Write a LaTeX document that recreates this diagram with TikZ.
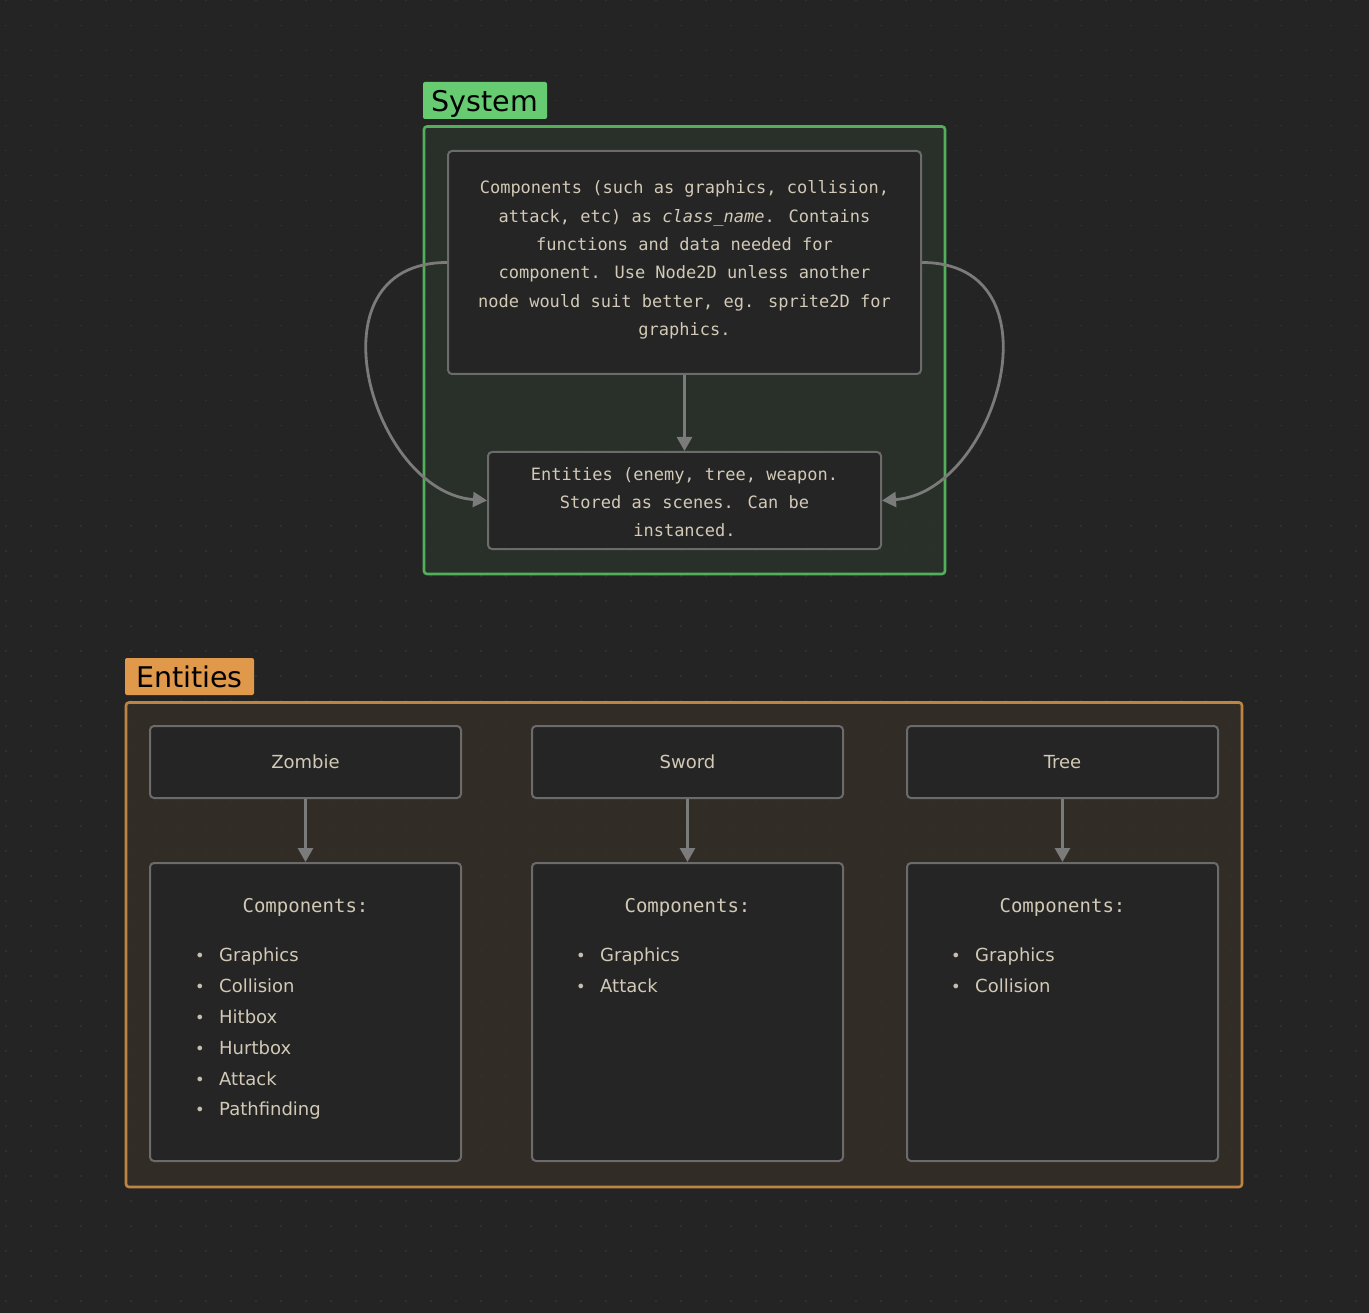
\documentclass[tikz,border=0pt]{standalone}
\usepackage{fontspec}
\setmainfont{DejaVu Sans}
\newfontfamily\monofont{DejaVu Sans Mono}
\usetikzlibrary{arrows.meta}

\definecolor{bgc}{HTML}{242424}
\definecolor{dotc}{HTML}{303030}
\definecolor{sysfill}{HTML}{292F29}
\definecolor{sysline}{HTML}{52B05A}
\definecolor{syslabel}{HTML}{67CC71}
\definecolor{entfill}{HTML}{322C26}
\definecolor{entline}{HTML}{BD8541}
\definecolor{entlabel}{HTML}{E0984A}
\definecolor{boxfill}{HTML}{252525}
\definecolor{boxline}{HTML}{6B6B6B}
\definecolor{txt}{HTML}{D2C9B6}
\definecolor{arrc}{HTML}{7B7B7B}

\newcommand{\bul}{\makebox[24pt][l]{\textcolor{txt!85!gray}{\scalebox{0.9}{•}}}}

\tikzset{
  group/.style={line width=2.6pt, rounded corners=3pt},
  grouplabel/.style={rounded corners=2pt, text=black, inner sep=0pt, text depth=0pt,
    font=\fontsize{28.5}{30}\selectfont},
  card/.style={draw=boxline, fill=boxfill, line width=2pt, rounded corners=4pt,
    inner sep=0pt, text=txt},
  monotext/.style={text=txt, align=center, font=\monofont\fontsize{17}{28.3}\selectfont},
  titletext/.style={text=txt, font=\fontsize{18}{22}\selectfont},
  listtext/.style={text=txt, align=left, inner sep=0pt, font=\fontsize{18}{30.8}\selectfont},
  arr/.style={draw=arrc, line width=2.8pt, -{Triangle[length=14pt,width=15pt]}},
}

\begin{document}
\begin{tikzpicture}[x=1pt, y=-1pt]
  \useasboundingbox (0,0) rectangle (1369,1313);
  \fill[bgc] (0,0) rectangle (1369,1313);

  % group backgrounds
  \fill[group, sysfill] (424,126.5) rectangle (945,574);
  \fill[group, entfill] (126,702.5) rectangle (1242,1187);

  % dot grid
  \foreach \x in {6,31,...,1369}
    \foreach \y in {0.6,25.6,...,1313}
      \fill[dotc] (\x-0.9,\y-0.9) rectangle ++(1.8,1.8);

  % group frames
  \draw[group, draw=sysline] (424,126.5) rectangle (945,574);
  \draw[group, draw=entline] (126,702.5) rectangle (1242,1187);

  % group labels
  \node[grouplabel, fill=syslabel, minimum width=124pt, minimum height=37pt]
    (syslbl) at (485,100.5) {System};
  \node[grouplabel, fill=entlabel, minimum width=129pt, minimum height=37pt]
    (entlbl) at (189.5,676.5) {Entities};

  % system cards
  \node[card, minimum width=473pt, minimum height=223pt] (comp) at (684.5,262.5) {};
  \node[monotext] (comptxt) at (684.5,260) {Components (such as graphics, collision,\\
    attack, etc) as \textit{class\_name}. Contains\\
    functions and data needed for\\
    component. Use Node2D unless another\\
    node would suit better, eg. sprite2D for\\
    graphics.};
  \node[card, minimum width=393pt, minimum height=97pt] (ent) at (684.5,500.5) {};
  \node[monotext] (enttxt) at (684.5,502) {Entities (enemy, tree, weapon.\\
    Stored as scenes. Can be\\
    instanced.};

  \draw[arr] (comp.south) -- (ent.north);
  \draw[arr] (comp.west) .. controls +(-142,0) and +(-115,-8) .. (ent.west);
  \draw[arr] (comp.east) .. controls +(142,0) and +(115,-8) .. (ent.east);

  % entity cards
  \foreach \name/\cx/\label in {zombie/305.5/Zombie, sword/687.5/Sword, tree/1062.5/Tree}{
    \node[card, minimum width=311pt, minimum height=72pt] (\name) at (\cx,762) {};
    \node[titletext] (\name txt) at (\cx,762) {\label};
    \node[card, minimum width=311pt, minimum height=298pt] (\name c) at (\cx,1012) {};
    \node[monotext, font=\monofont\fontsize{19}{20}\selectfont] (\name head) at (\cx,907) {Components:};
    \draw[arr] (\name.south) -- (\name c.north);
  }

  \node[listtext, anchor=north west] (zlist) at (195,948) {\bul Graphics\\ \bul Collision\\ \bul Hitbox\\
    \bul Hurtbox\\ \bul Attack\\ \bul Pathfinding};
  \node[listtext, anchor=north west] (slist) at (576,948) {\bul Graphics\\ \bul Attack};
  \node[listtext, anchor=north west] (tlist) at (951,948) {\bul Graphics\\ \bul Collision};
\end{tikzpicture}
\end{document}
